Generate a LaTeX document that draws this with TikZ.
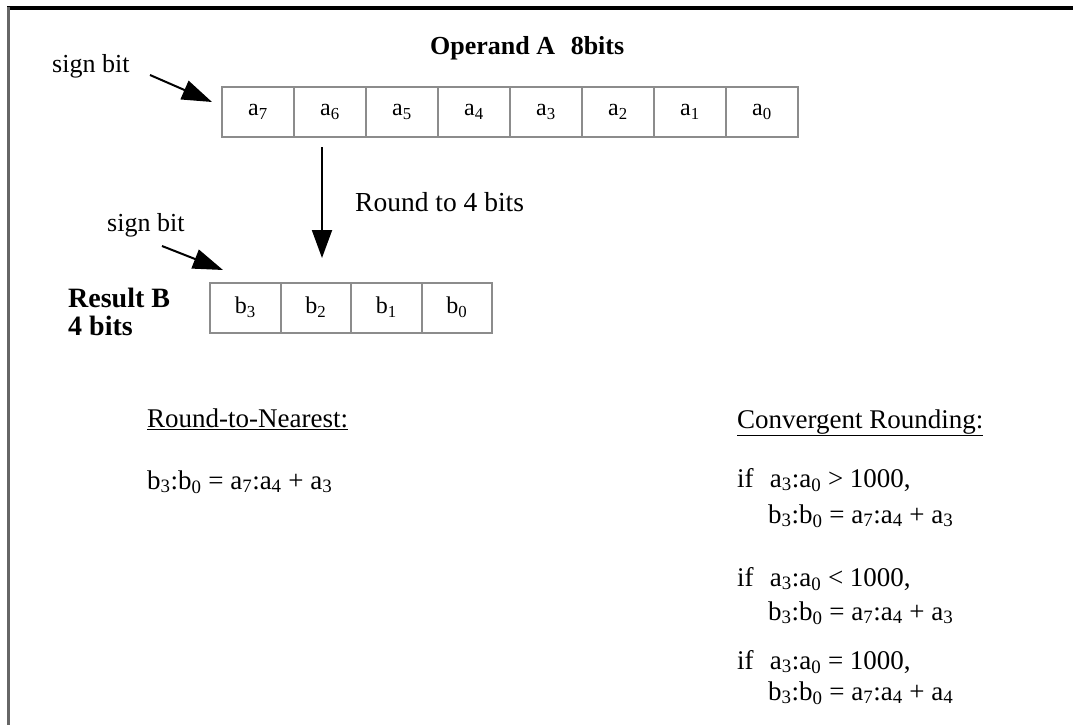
\documentclass[tikz,border=0pt]{standalone}
\usepackage{fontspec}
\setmainfont{Liberation Serif}
\usetikzlibrary{arrows.meta}
\newcommand\bsb[1]{\textsubscript{#1}}
\begin{document}
\begin{tikzpicture}[x=1pt,y=-1pt,
  cell/.style={draw=black!45,line width=2pt,minimum height=50pt,inner sep=0pt,
               font=\fontsize{24}{28}\selectfont},
  acell/.style={cell,minimum width=72pt},
  bcell/.style={cell,minimum width=70.5pt},
  txt/.style={anchor=base west,inner sep=0pt,font=\fontsize{27}{31}\selectfont},
  boldtxt/.style={txt,font=\fontsize{27}{31}\selectfont\bfseries},
  pointer/.style={line width=2pt,-{Triangle[length=30pt,width=20pt]}},
  bigpointer/.style={line width=2pt,-{Triangle[length=28pt,width=20pt]}}]
\useasboundingbox (0,0) rectangle (1073,725);
\fill[white] (0,0) rectangle (1073,725);
% page frame
\draw[line width=4pt] (7,8) -- (1073,8);
\draw[black!60,line width=3pt] (8,7) -- (8,725);

% operand A
\node[boldtxt,font=\fontsize{26}{30}\selectfont\bfseries] (titleA) at (430,55) {Operand A\hspace{0.6em}8bits};
\foreach \i [count=\k from 0] in {7,6,5,4,3,2,1,0}
  \node[acell] (a\i) at (258+72*\k,112) {a\bsb{\i}};

% result B
\foreach \i [count=\k from 0] in {3,2,1,0}
  \node[bcell] (b\i) at (245.25+70.5*\k,307.5) {b\bsb{\i}};
\node[boldtxt,font=\fontsize{28}{32}\selectfont\bfseries] (resB) at (68,307) {Result B};
\node[boldtxt,font=\fontsize{28}{32}\selectfont\bfseries] (resB4) at (68,335) {4 bits};

% sign bit pointers
\node[txt,font=\fontsize{26}{30}\selectfont] (sA) at (52,73) {sign bit};
\coordinate (sAfrom) at (150,75);
\coordinate (sAto) at (212,102);
\draw[pointer] (sAfrom) -- (sAto);
\node[txt,font=\fontsize{26}{30}\selectfont] (sB) at (107,231) {sign bit};
\coordinate (sBfrom) at (162,246);
\coordinate (sBto) at (223,270);
\draw[pointer] (sBfrom) -- (sBto);

% rounding step
\coordinate (rdfrom) at (322,147);
\coordinate (rdto) at (322,258);
\draw[bigpointer] (rdfrom) -- (rdto);
\node[txt,font=\fontsize{27.5}{31}\selectfont] (rd) at (355,211) {Round to 4 bits};

% round-to-nearest
\node[txt] (rnH) at (147,427) {\underline{Round-to-Nearest:}};
\node[txt] (rnE) at (147,489) {b\bsb{3}:b\bsb{0} = a\bsb{7}:a\bsb{4} + a\bsb{3}};

% convergent rounding
\node[txt] (cvH) at (737,428) {\underline{Convergent Rounding:}};
\node[txt] (c1) at (737,487) {if\hspace{0.6em}a\bsb{3}:a\bsb{0} > 1000,};
\node[txt] (c1r) at (768,523) {b\bsb{3}:b\bsb{0} = a\bsb{7}:a\bsb{4} + a\bsb{3}};
\node[txt] (c2) at (737,586) {if\hspace{0.6em}a\bsb{3}:a\bsb{0} < 1000,};
\node[txt] (c2r) at (768,620) {b\bsb{3}:b\bsb{0} = a\bsb{7}:a\bsb{4} + a\bsb{3}};
\node[txt] (c3) at (737,669) {if\hspace{0.6em}a\bsb{3}:a\bsb{0} = 1000,};
\node[txt] (c3r) at (768,700) {b\bsb{3}:b\bsb{0} = a\bsb{7}:a\bsb{4} + a\bsb{4}};
\end{tikzpicture}
\end{document}
